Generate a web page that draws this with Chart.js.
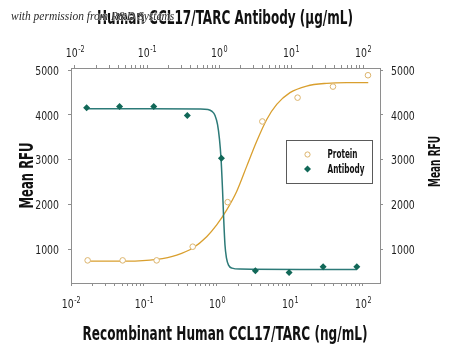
<!DOCTYPE html>
<html>
<head>
<meta charset="utf-8">
<script src="https://cdn.jsdelivr.net/npm/chart.js@4.4.1/dist/chart.umd.min.js"></script>
<style>
  html, body { margin: 0; padding: 0; background: #fff; }
  #wrap { width: 450px; height: 347px; }
</style>
</head>
<body>
<div id="wrap"><canvas id="ccl17-chart" width="450" height="347"></canvas></div>
<script>
(function() {
    "use strict";

    // Recombinant Human CCL17/TARC, ng/mL (bottom axis)
    const proteinConc = [0.0169, 0.051, 0.149, 0.465, 1.40, 4.18, 12.7, 38.8, 117];
    const proteinRfu = [746, 746, 746, 1052, 2049, 3854, 4387, 4634, 4888];

    // Anti-CCL17/TARC antibody, ug/mL (top axis)
    const antibodyConc = [0.0145, 0.0416, 0.124, 0.363, 1.08, 3.2, 9.4, 27.9, 81.9];
    const antibodyRfu = [4162, 4191, 4191, 3989, 3029, 512, 476, 602, 602];

    // fitted dose-response curves
    const proteinFitConc = [0.0169, 0.058, 0.149, 0.281, 0.473, 0.722, 0.991, 1.36, 1.86, 2.55, 3.50, 4.80, 6.58, 10.0, 16.9, 31.8, 59.8, 118];
    const proteinFitRfu = [730, 730, 769, 865, 1029, 1276, 1539, 1876, 2288, 2849, 3411, 3899, 4236, 4499, 4647, 4708, 4724, 4724];
    const antibodyFitConc = [0.0141, 0.110, 0.544, 0.703, 0.80, 0.88, 0.953, 1.016, 1.066, 1.119, 1.155, 1.21, 1.27, 1.355, 1.52, 1.96, 13.3, 81.9];
    const antibodyFitRfu = [4139, 4139, 4135, 4124, 4079, 3989, 3787, 3449, 3029, 2326, 1764, 1090, 798, 640, 573, 551, 544, 544];

    const decadeExps = [-2, -1, 0, 1, 2];
    const rfuTicks = [1000, 2000, 3000, 4000, 5000];

    const FONT = '"Liberation Sans Narrow", "DejaVu Sans Condensed", "Liberation Sans", sans-serif';
    const SQUEEZE = 0.8;
    const axisGrey = '#8e8e8e';
    const orange = '#d99f2e';
    const orangeLight = '#dcb46c';
    const teal = '#2c7a78';
    const tealDark = '#116858';

    function zip(xs, ys) {
        return xs.map((x, i) => ({x: x, y: ys[i]}));
    }

    // keep only 1..9 x 10^n on the log axes
    function keepDecadeTicks(scale) {
        scale.ticks = scale.ticks.filter(t => {
            const m = t.value / Math.pow(10, Math.floor(Math.log10(t.value) + 1e-9));
            return Math.abs(m - Math.round(m)) < 1e-6 && Math.round(m) < 10;
        });
    }

    function logAxis(position, min, max, size) {
        return {
            type: 'logarithmic',
            position: position,
            min: min,
            max: max,
            border: {display: true, color: axisGrey, width: 1},
            grid: {drawOnChartArea: false, drawTicks: true, tickLength: 3, color: axisGrey},
            ticks: {display: false, autoSkip: false},
            afterBuildTicks: keepDecadeTicks,
            afterFit: s => { s.height = size; }
        };
    }

    function rfuAxis(position, size) {
        return {
            type: 'linear',
            position: position,
            min: 240,
            max: 5050,
            border: {display: true, color: axisGrey, width: 1},
            grid: {drawOnChartArea: false, drawTicks: true, tickLength: 3, color: axisGrey},
            ticks: {display: false},
            afterBuildTicks: s => { s.ticks = rfuTicks.map(v => ({value: v})); },
            afterFit: s => { s.width = size; }
        };
    }

    // text scaled horizontally by k
    function scaledText(ctx, text, x, y, k, align) {
        ctx.save();
        ctx.translate(x, y);
        ctx.scale(k, 1);
        ctx.textAlign = align || 'center';
        ctx.fillText(text, 0, 0);
        ctx.restore();
    }

    // text squeezed/stretched to a given width
    function fitText(ctx, text, x, y, width, align) {
        scaledText(ctx, text, x, y, width / ctx.measureText(text).width, align);
    }

    function drawPower(ctx, x, y, exp) {
        const base = '10', sup = exp < 0 ? '-' + Math.abs(exp) : String(exp);
        ctx.font = '13px ' + FONT;
        const wb = ctx.measureText(base).width * SQUEEZE;
        ctx.font = '9px ' + FONT;
        const ws = ctx.measureText(sup).width * SQUEEZE;
        const left = x - (wb + ws) / 2;
        ctx.font = '13px ' + FONT;
        scaledText(ctx, base, left, y, SQUEEZE, 'left');
        ctx.font = '9px ' + FONT;
        scaledText(ctx, sup, left + wb + 0.5, y - 5, SQUEEZE, 'left');
    }

    const labelsPlugin = {
        id: 'ccl17Labels',
        afterDraw(chart) {
            const ctx = chart.ctx;
            const s = chart.scales;
            ctx.save();
            ctx.fillStyle = '#1e1e1e';
            ctx.textBaseline = 'alphabetic';

            // tick labels
            decadeExps.forEach(e => {
                drawPower(ctx, s.x.getPixelForValue(Math.pow(10, e)), 308, e);
                drawPower(ctx, s.x2.getPixelForValue(Math.pow(10, e)), 57, e);
            });
            ctx.font = '13px ' + FONT;
            rfuTicks.forEach(v => {
                const py = s.y.getPixelForValue(v) + 4.7;
                scaledText(ctx, String(v), s.y.right - 12, py, SQUEEZE, 'right');
                scaledText(ctx, String(v), s.y2.left + 11, py, SQUEEZE, 'left');
            });

            // axis titles
            ctx.fillStyle = '#111';
            ctx.font = 'bold 20px ' + FONT;
            fitText(ctx, 'Human CCL17/TARC Antibody (\u00b5g/mL)', 225, 24, 256);
            fitText(ctx, 'Recombinant Human CCL17/TARC (ng/mL)', 225, 340, 285);

            ctx.save();
            ctx.translate(33, 175.5);
            ctx.rotate(-Math.PI / 2);
            fitText(ctx, 'Mean RFU', 0, 0, 66);
            ctx.restore();

            ctx.save();
            ctx.font = 'bold 16px ' + FONT;
            ctx.translate(440, 161.5);
            ctx.rotate(-Math.PI / 2);
            fitText(ctx, 'Mean RFU', 0, 0, 51);
            ctx.restore();

            // credit line
            ctx.font = 'italic 12px "Liberation Serif", "DejaVu Serif", serif';
            const credit = 'with permission from R&D Systems';
            const k = 79 / ctx.measureText('with permission f').width;
            ctx.save();
            ctx.translate(11, 20);
            ctx.scale(k, 1);
            ctx.textAlign = 'left';
            ctx.lineWidth = 1.4;
            ctx.strokeStyle = 'rgba(255,255,255,0.55)';
            ctx.strokeText(credit, 0, 0);
            ctx.fillStyle = '#2b2b2b';
            ctx.fillText(credit, 0, 0);
            ctx.restore();

            // legend
            ctx.strokeStyle = '#5a5a5a';
            ctx.lineWidth = 1;
            ctx.strokeRect(286.5, 140.5, 86, 43);

            ctx.beginPath();
            ctx.arc(307.5, 154.5, 2.6, 0, Math.PI * 2);
            ctx.fillStyle = '#fff';
            ctx.fill();
            ctx.strokeStyle = orangeLight;
            ctx.stroke();

            ctx.beginPath();
            ctx.moveTo(307.5, 165.5);
            ctx.lineTo(311, 169);
            ctx.lineTo(307.5, 172.5);
            ctx.lineTo(304, 169);
            ctx.closePath();
            ctx.fillStyle = tealDark;
            ctx.fill();

            ctx.fillStyle = '#111';
            ctx.font = 'bold 12px ' + FONT;
            fitText(ctx, 'Protein', 327.5, 158, 30, 'left');
            fitText(ctx, 'Antibody', 327.5, 173, 37, 'left');
            ctx.restore();
        }
    };

    const canvas = document.getElementById('ccl17-chart');
    window.Chart && new Chart(canvas, {
        type: 'scatter',
        data: {
            datasets: [{
                label: 'Protein fit',
                data: zip(proteinFitConc, proteinFitRfu),
                showLine: true,
                borderColor: orange,
                borderWidth: 1.3,
                pointRadius: 0,
                cubicInterpolationMode: 'monotone',
                xAxisID: 'x',
                yAxisID: 'y',
                order: 4
            }, {
                label: 'Antibody fit',
                data: zip(antibodyFitConc, antibodyFitRfu),
                showLine: true,
                borderColor: teal,
                borderWidth: 1.5,
                pointRadius: 0,
                cubicInterpolationMode: 'monotone',
                xAxisID: 'x2',
                yAxisID: 'y',
                order: 3
            }, {
                label: 'Protein',
                data: zip(proteinConc, proteinRfu),
                pointStyle: 'circle',
                pointRadius: 2.8,
                backgroundColor: '#fff',
                borderColor: orangeLight,
                borderWidth: 1,
                xAxisID: 'x',
                yAxisID: 'y',
                order: 2
            }, {
                label: 'Antibody',
                data: zip(antibodyConc, antibodyRfu),
                pointStyle: 'rectRot',
                pointRadius: 3.5,
                backgroundColor: tealDark,
                borderColor: tealDark,
                borderWidth: 0,
                xAxisID: 'x2',
                yAxisID: 'y',
                order: 1
            }]
        },
        options: {
            responsive: false,
            animation: false,
            layout: {padding: 0},
            plugins: {
                legend: {display: false},
                tooltip: {enabled: false}
            },
            scales: {
                x: logAxis('bottom', 0.01, 171, 64),
                x2: logAxis('top', 0.0088, 172, 68),
                y: rfuAxis('left', 71),
                y2: rfuAxis('right', 70)
            }
        },
        plugins: [labelsPlugin]
    });

})();
</script>
</body>
</html>
